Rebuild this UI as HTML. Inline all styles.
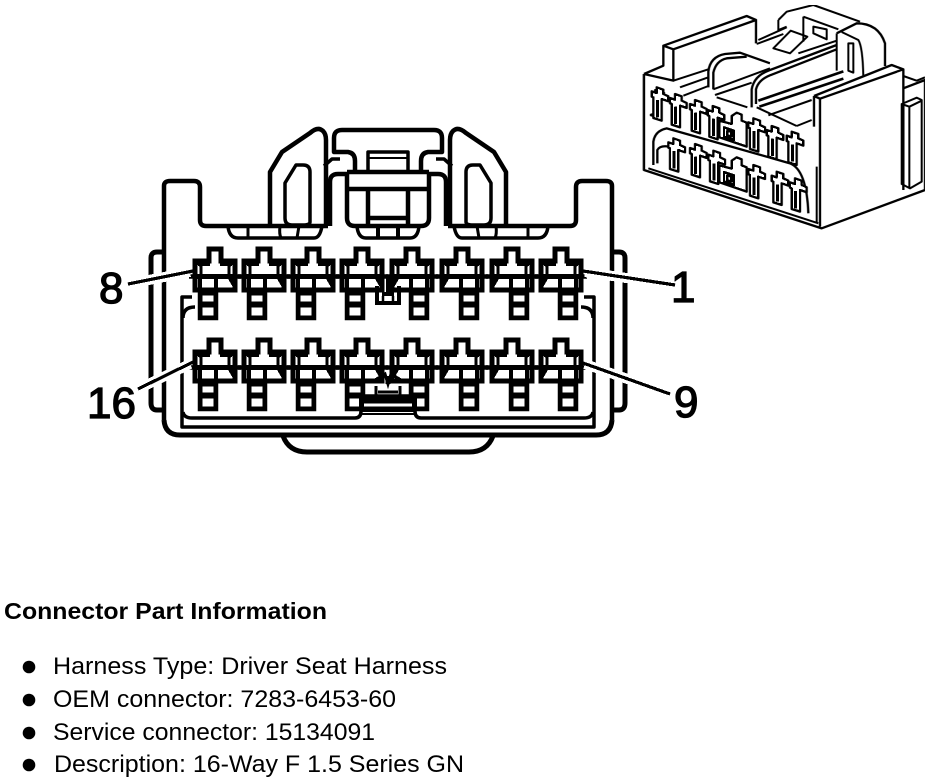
<!DOCTYPE html>
<html>
<head>
<meta charset="utf-8">
<style>
html,body{margin:0;padding:0;background:#fff;width:944px;height:784px;overflow:hidden}
svg{display:block}
text{font-family:"Liberation Sans",sans-serif;fill:#000}
</style>
</head>
<body>
<svg width="944" height="784" viewBox="0 0 944 784" xmlns="http://www.w3.org/2000/svg">
<defs>
<filter id="bw" x="0" y="0" width="100%" height="100%" color-interpolation-filters="sRGB">
<feComponentTransfer><feFuncR type="discrete" tableValues="0 1"/><feFuncG type="discrete" tableValues="0 1"/><feFuncB type="discrete" tableValues="0 1"/></feComponentTransfer>
</filter>
<g id="tL" fill="none" stroke="#000">
<path d="M-6,2H6V14H20V43H-20V14H-6Z" fill="#fff" stroke-width="5"/>
<path d="M-15,44H1V71H-15Z" fill="#fff" stroke-width="4.5"/>
<path d="M-17,17H-5M5,17H17" stroke-width="4"/>
<path d="M-20,14L-14,19V29M20,14L14,19V29" stroke-width="3"/>
<path d="M-15,29V44M1,29V44" stroke-width="3.5"/>
<path d="M-26,29.5H26" stroke-width="4.5"/>
<path d="M14,30L21,42" stroke-width="3.5"/>
<path d="M-15,47H1" stroke-width="3"/>
<path d="M-15,57.5H1" stroke-width="6.5"/>
</g>
<g id="half" fill="none" stroke="#000" stroke-width="4.5" stroke-linejoin="round">
<path d="M164,420V186Q164,181 170,181H194Q200,181 200,187V220Q200,226 206,226H328"/>
<path d="M270,226V172L282,152L310,133Q318,126 323,131Q326,134 326,140V226" />
<path d="M330,226V182Q330,174 338,174H347" />
<path d="M296,165H303Q310,165 310,172V222Q310,225 303,225H292Q285,225 285,218V183Z" stroke-width="3.5"/>
<path d="M324,166L332,159H340" stroke-width="3.5"/>
<path d="M228,226Q229,238 238,238H314Q320,238 322,226" stroke-width="3.5"/>
<path d="M248,226V238M280,226Q279,234 281,238M299,226L297,238" stroke-width="3"/>
<path d="M388,130H342Q334,130 334,138V152H348Q355,153 355,161V172" />
<path d="M347,172V218Q347,226 355,226H388M347,172H388" />
<path d="M347,189H388M368,189V226M368,218H388" />
<path d="M368,172V152H388" stroke-width="3.5"/>
<path d="M368,158H388" stroke-width="2"/>
<path d="M357,226Q358,238 366,238H388" stroke-width="3.5"/>
<path d="M378,226V238" stroke-width="4"/>
<path d="M164,252H157Q151,252 151,258V403Q151,410 157,410H164" stroke-width="5"/>
<path d="M164,420Q165,435 180,435H388" stroke-width="5"/>
<path d="M283,436Q289,452 307,452H388" stroke-width="5"/>
<path d="M192,297H182V427H388" stroke-width="3.5"/>
<path d="M195,307Q183,307 183,318" stroke-width="3.5"/>
<path d="M183,412Q184,418 192,418H355Q361,418 361,411" stroke-width="3.5"/>
</g>
<g id="t3" fill="#fff" stroke="#000" stroke-width="7" stroke-linejoin="round">
<path d="M-10,0L10,7V20L25,27V42L5,35V100L-20,92V30L-25,28V12L-10,17Z"/>
<path d="M-8,38V90" fill="none" stroke-width="9"/>
</g>
</defs>

<g filter="url(#bw)">
<!-- main connector -->
<use href="#half"/>
<use href="#half" transform="translate(776,0) scale(-1,1)"/>

<!-- row 1 terminals -->
<use href="#tL" x="215" y="247"/><use href="#tL" x="264" y="247"/><use href="#tL" x="313" y="247"/><use href="#tL" x="362" y="247"/>
<g transform="translate(412,247) scale(-1,1)"><use href="#tL"/></g>
<g transform="translate(462,247) scale(-1,1)"><use href="#tL"/></g>
<g transform="translate(512,247) scale(-1,1)"><use href="#tL"/></g>
<g transform="translate(561,247) scale(-1,1)"><use href="#tL"/></g>
<!-- row 2 terminals -->
<use href="#tL" x="215" y="338"/><use href="#tL" x="264" y="338"/><use href="#tL" x="313" y="338"/><use href="#tL" x="362" y="338"/>
<g transform="translate(412,338) scale(-1,1)"><use href="#tL"/></g>
<g transform="translate(462,338) scale(-1,1)"><use href="#tL"/></g>
<g transform="translate(512,338) scale(-1,1)"><use href="#tL"/></g>
<g transform="translate(561,338) scale(-1,1)"><use href="#tL"/></g>

<!-- centre key, row 1 -->
<g fill="none" stroke="#000" stroke-width="4">
<path d="M377,286V303H399V286M388,276V294M382,294H394" />
<path d="M383,296V303M393,296V303" stroke-width="2.5"/>
</g>
<!-- centre clip, row 2 -->
<g fill="none" stroke="#000">
<path d="M375,380L385,374L388,384L391,374L401,380" stroke-width="3"/>
<path d="M388,376V384" stroke-width="5"/>
<path d="M376,386V398M400,386V398" stroke-width="3"/>
<path d="M364,396H412" stroke-width="3.5"/>
<path d="M378,392H398" stroke-width="3"/>
<path d="M361,411V398H415V411" stroke-width="4" />
<rect x="362" y="398" width="52" height="14" fill="#000" stroke="none"/>
<path d="M364,405H412" stroke="#fff" stroke-width="3"/>
<path d="M362,414H414" stroke-width="2"/>
</g>

<!-- leaders -->
<g fill="none" stroke-linecap="butt">
<g stroke="#fff" stroke-width="10">
<path d="M128,284L190,272M138,389L190,364M585,272L675,285M585,364L670,394"/>
</g>
<g stroke="#000" stroke-width="3.2">
<path d="M128,284L193,271M138,389L193,362M583,271L675,285M583,363L670,394"/>
</g>
</g>

<!-- pin labels -->
<g font-size="44" stroke="#000" stroke-width="1.3">
<text x="99" y="303">8</text>
<text x="87" y="418">16</text>
<text x="671" y="302">1</text>
<text x="674" y="417">9</text>
</g>

<!-- 3D connector -->
<g transform="translate(630,0) scale(.33333)" fill="none" stroke="#000" stroke-width="7" stroke-linejoin="round">
<path d="M42,222V510L575,685L885,570V240L820,265"/>
<path d="M42,222L100,197V137L350,48L378,60V130"/>
<path d="M100,137L130,148L378,60M130,148V242L42,222"/>
<path d="M552,288L785,195L820,208V570"/>
<path d="M552,288L570,296V680M570,296L820,208"/>
<path d="M820,228L860,242L885,232" stroke-width="6"/>
<path d="M815,312L860,293L875,300V545L840,565L815,552ZM838,318V565M815,312L838,320L875,302" stroke-width="6"/>
<path d="M552,288V380"/>
<path d="M130,242L235,208M150,262L235,232M160,287L235,258" stroke-width="6"/>
<path d="M235,262V215Q240,170 285,162L330,158L420,190M250,268V218Q258,182 290,175L350,170" />
<path d="M250,268L420,205M255,285L365,248M260,292L352,322" stroke-width="6"/>
<path d="M365,322V268Q372,228 415,212L620,135M378,312V268Q385,240 420,226L620,148"/>
<path d="M385,302L640,214M388,320L640,236" stroke-width="8"/>
<path d="M380,322L500,378M415,346L545,300M500,378L545,360" stroke-width="6"/>
<path d="M620,100L680,70Q745,70 765,130V198"/>
<path d="M620,100V212M635,96L685,120Q698,140 700,230" stroke-width="6"/>
<path d="M655,130H670V218L655,212Z" stroke-width="6"/>
<path d="M445,60L470,35L550,15L690,65M445,60V90L470,80M520,50L625,88M520,50V125" stroke-width="6"/>
<path d="M550,80L590,88V118L550,100Z" stroke-width="6"/>
<path d="M430,145L482,92L532,110L480,160Z" stroke-width="6"/>
<path d="M385,120L470,82M380,132L460,102M505,160L620,122M515,175L620,135" stroke-width="6"/>
<path d="M60,345L75,340V270L105,280" stroke-width="6"/>
<path d="M60,345L82,352V300" stroke-width="6"/>
<path d="M70,495V425Q75,392 110,385L480,490Q530,510 535,640"/>
<path d="M55,505L565,670M560,500V668" stroke-width="6"/>
<path d="M82,490V450Q90,435 118,440"/>
<use href="#t3" x="90" y="262"/><use href="#t3" x="145" y="282"/><use href="#t3" x="205" y="300"/><use href="#t3" x="258" y="318"/>
<use href="#t3" x="380" y="355"/><use href="#t3" x="435" y="378"/><use href="#t3" x="495" y="395"/>
<use href="#t3" x="140" y="415"/><use href="#t3" x="205" y="432"/><use href="#t3" x="260" y="452"/>
<use href="#t3" x="380" y="495"/><use href="#t3" x="450" y="515"/><use href="#t3" x="505" y="535"/>
<path d="M320,338L335,344V362L350,368V440L268,412V362L305,372V348Z" fill="#fff"/>
<path d="M282,382L312,392V420L282,410ZM292,392L304,396V410L292,406Z" />
<path d="M320,472L335,478V496L350,502V575L268,547V496L305,506V482Z" fill="#fff"/>
<path d="M282,516L312,526V555L282,545ZM292,526L304,530V545L292,541Z" />
</g>

<!-- text -->
<text x="4" y="619" font-size="23" font-weight="bold" textLength="323" lengthAdjust="spacingAndGlyphs">Connector Part Information</text>
<circle cx="29" cy="667" r="6.3"/><circle cx="29" cy="700" r="6.3"/><circle cx="29" cy="733" r="6.3"/><circle cx="29" cy="765" r="6.3"/>
<g font-size="24">
<text x="53" y="674" textLength="394" lengthAdjust="spacingAndGlyphs">Harness Type: Driver Seat Harness</text>
<text x="53" y="707" textLength="343" lengthAdjust="spacingAndGlyphs">OEM connector: 7283-6453-60</text>
<text x="53" y="740" textLength="322" lengthAdjust="spacingAndGlyphs">Service connector: 15134091</text>
<text x="54" y="772" textLength="410" lengthAdjust="spacingAndGlyphs">Description: 16-Way F 1.5 Series GN</text>
</g>
</g>
</svg>
</body>
</html>
